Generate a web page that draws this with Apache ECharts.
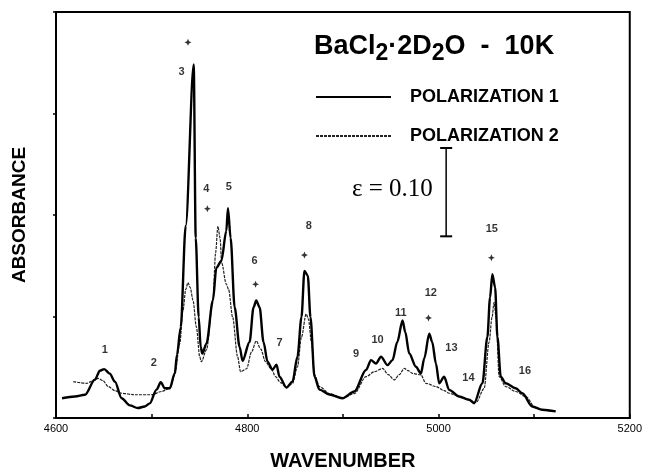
<!DOCTYPE html>
<html>
<head>
<meta charset="utf-8">
<script src="https://cdn.jsdelivr.net/npm/echarts@6/dist/echarts.min.js"></script>
<style>html,body{margin:0;padding:0;background:#fff}#c{width:645px;height:476px}</style>
</head>
<body>
<div id="c"></div>
<script>
// Polarization 1 (solid, thick)
const pol1Wn = [4606.3,4619.8,4630.3,4640.7,4645.9,4650.4,4656.3,4661.6,4668.6,4677.2,4685.6,4692.9,4698.1,4705.1,4709.6,4713.7,4719.0,4724.2,4726.5,4730.4,4735.6,4744.0,4746.1,4749.2,4751.3,4753.0,4757.3,4764.1,4767.7,4772.9,4778.1,4779.8,4782.6,4786.8,4792.0,4795.1,4802.4,4806.6,4809.4,4812.9,4817.0,4821.2,4826.4,4830.6,4833.7,4841.0,4847.3,4852.5,4856.7,4859.8,4863.3,4866.1,4870.3,4875.5,4885.9,4899.5,4912.0,4924.2,4929.4,4934.6,4939.9,4946.7,4951.9,4956.9,4962.4,4965.2,4969.4,4976.4,4981.6,4985.1,4990.3,4993.4,4997.3,5000.7,5005.9,5011.1,5021.6,5032.0,5037.2,5045.9,5051.1,5053.9,5056.3,5059.2,5061.6,5065.1,5070.3,5080.7,5087.6,5098.1,5108.5,5122.5];
const pol1Abs = [0.195,0.212,0.229,0.378,0.466,0.482,0.437,0.358,0.195,0.124,0.098,0.114,0.144,0.280,0.352,0.293,0.293,0.439,0.620,0.893,1.892,3.483,1.774,0.993,0.700,0.635,0.732,1.159,1.481,1.547,1.843,2.067,1.774,1.091,0.700,0.563,0.749,1.091,1.159,1.091,0.749,0.554,0.476,0.524,0.407,0.300,0.358,0.603,0.993,1.449,1.403,0.993,0.407,0.280,0.231,0.195,0.261,0.473,0.570,0.537,0.603,0.521,0.570,0.749,0.961,0.847,0.635,0.505,0.439,0.586,0.830,0.749,0.537,0.342,0.407,0.277,0.212,0.180,0.146,0.342,0.798,1.188,1.416,1.286,0.798,0.407,0.342,0.293,0.244,0.114,0.082,0.065];
// Polarization 2 (dotted, thin)
const pol2Wn = [4618.1,4632.0,4640.7,4644.1,4649.0,4654.6,4661.6,4668.6,4682.4,4699.9,4710.3,4719.0,4724.2,4729.4,4732.8,4735.7,4738.0,4740.3,4743.3,4746.8,4750.3,4752.0,4757.3,4764.1,4766.9,4769.3,4771.6,4773.2,4778.1,4780.5,4784.7,4789.9,4793.0,4799.3,4804.5,4809.4,4814.0,4819.1,4825.1,4829.6,4834.8,4841.0,4847.3,4852.5,4856.7,4861.6,4864.0,4867.1,4870.3,4875.5,4885.9,4899.5,4912.0,4924.2,4932.9,4941.5,4947.5,4953.7,4959.0,4964.2,4968.4,4972.8,4981.6,4986.8,4997.3,5005.9,5011.1,5021.6,5032.0,5039.3,5047.7,5052.9,5056.0,5058.1,5060.2,5063.4,5070.3,5080.7,5091.2,5101.6,5111.3,5122.5];
const pol2Abs = [0.358,0.342,0.375,0.391,0.368,0.310,0.270,0.244,0.229,0.229,0.261,0.293,0.427,0.732,1.061,1.267,1.335,1.286,1.159,0.896,0.603,0.554,0.671,1.159,1.628,1.889,1.772,1.530,1.318,1.267,0.993,0.603,0.456,0.485,0.651,0.759,0.681,0.554,0.485,0.407,0.349,0.300,0.339,0.505,0.798,1.025,0.974,0.749,0.427,0.310,0.241,0.195,0.241,0.407,0.456,0.488,0.427,0.375,0.427,0.488,0.466,0.439,0.424,0.342,0.310,0.270,0.244,0.212,0.180,0.153,0.290,0.749,0.993,1.140,0.993,0.407,0.310,0.261,0.212,0.098,0.075,0.065];
// Peak numbers
const peakText = ['1','2','3','4','5','6','7','8','9','10','11','12','13','14','15','16'];
const peakWn   = [4651.1,4702.3,4731.2,4757.3,4780.8,4807.7,4833.7,4864.3,4913.8,4936.3,4960.7,4992.0,5013.5,5031.3,5055.7,5090.4];
const peakAbs  = [0.668,0.544,3.408,2.256,2.279,1.547,0.739,1.889,0.635,0.766,1.032,1.228,0.690,0.391,1.862,0.463];
// Asterisks
const starWn  = [4738.0,4758.3,4808.7,4859.8,4989.5,5055.3];
const starAbs = [3.701,2.061,1.318,1.605,0.986,1.579];
// Scale bar (epsilon = 0.10)
const barWn = 5008;
const barAbs = [1.79, 2.66];
const xTicks = [4600, 4800, 5000, 5200];
const seriesNames = ['POLARIZATION 1', 'POLARIZATION 2'];

const zip = (a, b) => a.map((v, i) => [v, b[i]]);
const FONT = '"Liberation Sans", Arial, sans-serif';

const chart = echarts.init(document.getElementById('c'), null, {renderer: 'canvas'});
chart.setOption({
  animation: false,
  backgroundColor: '#fff',
  title: {
    left: 309, top: 28,
    text: '{a|BaCl}{s|2}{a|·2D}{s|2}{a|O  -  10K}',
    textStyle: {
      rich: {
        a: {fontFamily: FONT, fontWeight: 'bold', fontSize: 27, color: '#000', lineHeight: 32, verticalAlign: 'top'},
        s: {fontFamily: FONT, fontWeight: 'bold', fontSize: 23, color: '#000', lineHeight: 32, verticalAlign: 'bottom', padding: [11, 0, 0, 0]}
      }
    }
  },
  legend: {
    data: seriesNames.map(n => ({name: n, itemStyle: {opacity: 0}})),
    orient: 'vertical',
    left: 310, top: 83,
    itemWidth: 75, itemHeight: 14, itemGap: 21,
    textStyle: {fontFamily: FONT, fontWeight: 'bold', fontSize: 18, color: '#000', padding: [0, 0, 0, 14]},
    inactiveColor: '#000'
  },
  grid: {left: 56, right: 14, top: 12, bottom: 54, show: true, borderColor: '#000', borderWidth: 2},
  xAxis: {
    type: 'value', min: 4600, max: 5200, interval: 100,
    name: 'WAVENUMBER', nameLocation: 'middle', nameGap: 33,
    nameTextStyle: {fontFamily: FONT, fontWeight: 'bold', fontSize: 20, color: '#000'},
    axisLine: {lineStyle: {color: '#000', width: 2}},
    axisTick: {inside: true, length: 4, lineStyle: {color: '#000', width: 1.5}},
    axisLabel: {fontFamily: FONT, fontSize: 11, color: '#000', margin: 5,
      formatter: v => xTicks.includes(v) ? String(v) : ''},
    splitLine: {show: false}
  },
  yAxis: {
    type: 'value', min: 0, max: 4, interval: 1,
    name: 'ABSORBANCE', nameLocation: 'middle', nameGap: 27,
    nameTextStyle: {fontFamily: FONT, fontWeight: 'bold', fontSize: 19, color: '#000'},
    axisLine: {lineStyle: {color: '#000', width: 2}},
    axisTick: {length: 3, lineStyle: {color: '#000', width: 1.5}},
    axisLabel: {show: false},
    splitLine: {show: false}
  },
  series: [
    {
      name: seriesNames[0], type: 'line', data: zip(pol1Wn, pol1Abs), symbol: 'none',
      smooth: 0.3, smoothMonotone: 'x',
      lineStyle: {color: '#000', width: 2.4}, itemStyle: {color: '#000'}, z: 3
    },
    {
      name: seriesNames[1], type: 'line', data: zip(pol2Wn, pol2Abs), symbol: 'none',
      smooth: 0.3, smoothMonotone: 'x',
      lineStyle: {color: '#222', width: 1.2, type: [3, 1]}, itemStyle: {color: '#222'}, z: 2
    },
    {
      name: 'bar', type: 'line', data: barAbs.map(a => [barWn, a]),
      symbol: 'rect', symbolSize: [12, 2], lineStyle: {color: '#000', width: 1.5}, itemStyle: {color: '#000'}
    },
    {
      name: 'peaks', type: 'scatter', symbolSize: 0,
      data: peakText.map((t, i) => ({value: [peakWn[i], peakAbs[i]], name: t})),
      label: {show: true, position: 'inside', formatter: p => p.name,
        fontFamily: FONT, fontWeight: 'bold', fontSize: 11, color: '#000'}
    },
    {
      name: 'stars', type: 'scatter', symbol: 'path://M0,-1L0.3,-0.3L1,0L0.3,0.3L0,1L-0.3,0.3L-1,0L-0.3,-0.3Z', symbolSize: 7,
      itemStyle: {color: '#000'},
      data: zip(starWn, starAbs)
    }
  ],
  graphic: [
    {type: 'text', left: 352, top: 177,
     style: {text: 'ε = 0.10', fontFamily: '"Liberation Serif", "DejaVu Serif", serif', fontSize: 25, fill: '#000'}}
  ]
});
</script>
</body>
</html>
